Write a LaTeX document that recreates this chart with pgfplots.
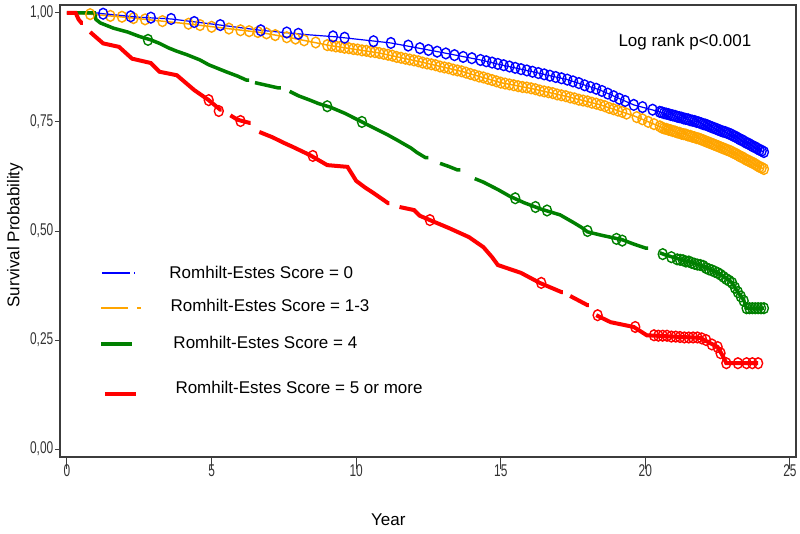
\documentclass[border=0pt]{standalone}
\usepackage{fontspec}
\setmainfont{Liberation Sans}
\usepackage{pgfplots}
\pgfplotsset{compat=1.18}
\definecolor{sblue}{RGB}{0,0,255}
\definecolor{sorange}{RGB}{255,165,0}
\definecolor{sgreen}{RGB}{0,128,0}
\definecolor{sred}{RGB}{255,0,0}
\definecolor{frm}{RGB}{60,60,60}
\begin{document}
\begin{tikzpicture}
\begin{axis}[
  scale only axis, width=736pt, height=452pt,
  xmin=-0.242, xmax=25.21, ymin=-0.018, ymax=1.018,
  axis line style={frm, line width=1.5pt},
  xtick={0,5,10,15,20,25}, ytick={0,0.25,0.5,0.75,1},
  xtick pos=bottom, ytick pos=left, tick align=outside,
  xtick style={frm, line width=1pt, /pgfplots/major tick length=12pt},
  ytick style={frm, line width=1pt, /pgfplots/major tick length=5pt},
  /pgf/number format/assume math mode=true,
  yticklabel style={/pgf/number format/fixed, /pgf/number format/fixed zerofill,
    /pgf/number format/precision=2, /pgf/number format/use comma,
    font=\fontsize{17}{17}\selectfont, xscale=0.7, text=black!80},
  xticklabel style={font=\fontsize{17}{17}\selectfont, xscale=0.7, text=black!80},
  xlabel={Year}, ylabel={Survival Probability},
  every axis x label/.style={at={(axis description cs:0.446,0)}, yshift=-63pt, anchor=center, font=\fontsize{17}{20}\selectfont},
  every axis y label/.style={at={(axis description cs:0,0.491)}, xshift=-45pt, rotate=90, anchor=center, font=\fontsize{17}{20}\selectfont},
  unbounded coords=jump,
  cens/.style={only marks, mark=o, mark size=4.5pt, mark options={line width=1.4pt, yscale=1.2}},
]
% Score 1-3 (orange)
\addplot[sorange, line width=1.5pt] coordinates {(0,1.0) (0.8,0.997) (2,0.99) (4.15,0.975) (5.3,0.966) (6.7,0.955) (7.8,0.942) (9.1,0.925) (10.8,0.908) (12.2,0.888) (13.7,0.865) (15,0.84) (16.1,0.826) (17.3,0.808) (18.4,0.79) (19.6,0.764) (20.7,0.734) (21.9,0.711) (23.0,0.681) (24.1,0.642)};
\addplot[sorange, cens] coordinates {
(0.8,0.997) (1.5,0.993) (1.9,0.991) (2.3,0.988) (2.7,0.985) (3.3,0.981) (4.2,0.975) (4.6,0.972) (5.0,0.968) (5.6,0.964) (6.0,0.960) (6.3,0.958) (6.6,0.956) (6.9,0.953) (7.2,0.949) (7.6,0.944) (7.9,0.941) (8.2,0.937) (8.6,0.932)
(9.0,0.926) (9.15,0.925) (9.3,0.923) (9.45,0.922) (9.6,0.920) (9.75,0.919) (9.9,0.917) (10.05,0.916) (10.2,0.914) (10.35,0.913) (10.5,0.911) (10.65,0.910) (10.8,0.908) (10.95,0.906) (11.1,0.904) (11.25,0.902) (11.4,0.899) (11.55,0.897) (11.7,0.895) (11.85,0.893) (12.0,0.891) (12.15,0.889) (12.3,0.886) (12.45,0.884) (12.6,0.882) (12.75,0.880) (12.9,0.877) (13.05,0.875) (13.2,0.873) (13.35,0.870) (13.5,0.868) (13.65,0.866) (13.8,0.863) (13.95,0.860) (14.1,0.857) (14.25,0.854) (14.4,0.852) (14.55,0.849) (14.7,0.846) (14.85,0.843) (15.0,0.840) (15.15,0.838) (15.3,0.836) (15.45,0.834) (15.6,0.832) (15.75,0.830) (15.9,0.829) (16.05,0.827) (16.2,0.825) (16.35,0.822) (16.5,0.820) (16.65,0.818) (16.8,0.816) (16.95,0.813) (17.1,0.811) (17.25,0.809) (17.4,0.806) (17.55,0.804) (17.7,0.801) (17.85,0.799) (18.0,0.797) (18.15,0.794) (18.3,0.792) (18.45,0.789) (18.6,0.786) (18.75,0.782) (18.9,0.779) (19.05,0.776) (19.2,0.773) (19.35,0.769) (19.7,0.761) (19.9,0.756) (20.1,0.750) (20.3,0.745)
(20.5,0.740) (20.575,0.737) (20.65,0.735) (20.725,0.734) (20.8,0.732) (20.875,0.731) (20.95,0.729) (21.025,0.728) (21.1,0.726) (21.175,0.725) (21.25,0.723) (21.325,0.722) (21.4,0.721) (21.475,0.719) (21.55,0.718) (21.625,0.716) (21.7,0.715) (21.775,0.713) (21.85,0.712) (21.925,0.710) (22.0,0.708) (22.075,0.706) (22.15,0.704) (22.225,0.702) (22.3,0.700) (22.375,0.698) (22.45,0.696) (22.525,0.694) (22.6,0.692) (22.675,0.690) (22.75,0.688) (22.825,0.686) (22.9,0.684) (22.975,0.682) (23.05,0.679) (23.125,0.677) (23.2,0.674) (23.275,0.671) (23.35,0.669) (23.425,0.666) (23.5,0.663) (23.575,0.661) (23.65,0.658) (23.725,0.656) (23.8,0.653) (23.875,0.650) (23.95,0.647) (24.025,0.645) (24.1,0.642)};
% Score 0 (blue)
\addplot[sblue, line width=1.2pt] coordinates {(0,1.0) (1.0,1.0) (1.25,0.998) (2.5,0.99) (3.6,0.986) (5.3,0.972) (6.7,0.96) (8.3,0.95) (9.3,0.945) (11.2,0.931) (12.9,0.91) (14.3,0.892) (15,0.881) (16.1,0.865) (17.3,0.847) (18.4,0.824) (19.6,0.789) (20.5,0.773) (21.9,0.748) (23.0,0.72) (24.1,0.681)};
\addplot[sblue, cens] coordinates {
(1.25,0.998) (2.2,0.992) (2.9,0.989) (3.6,0.986) (4.4,0.979) (5.3,0.972) (6.7,0.96) (7.6,0.955) (8.0,0.952) (9.2,0.946) (9.6,0.943) (10.6,0.935) (11.2,0.931) (11.8,0.925) (12.2,0.919)
(12.5,0.915) (12.8,0.911) (13.1,0.907) (13.4,0.903) (13.7,0.899) (14.0,0.896) (14.3,0.892) (14.5,0.889) (14.7,0.886) (14.9,0.883) (15.1,0.880) (15.3,0.877) (15.5,0.874) (15.7,0.871) (15.9,0.868) (16.1,0.865) (16.3,0.862) (16.5,0.859) (16.7,0.856) (16.9,0.853) (17.1,0.850) (17.3,0.847) (17.5,0.843) (17.7,0.839) (17.9,0.834) (18.1,0.830) (18.3,0.826) (18.5,0.821) (18.7,0.815) (18.9,0.809) (19.1,0.803) (19.3,0.798) (19.6,0.789) (19.9,0.784) (20.25,0.778)
(20.5,0.773) (20.575,0.772) (20.65,0.770) (20.725,0.769) (20.8,0.768) (20.875,0.766) (20.95,0.765) (21.025,0.764) (21.1,0.762) (21.175,0.761) (21.25,0.760) (21.325,0.758) (21.4,0.757) (21.475,0.756) (21.55,0.754) (21.625,0.753) (21.7,0.752) (21.775,0.750) (21.85,0.749) (21.925,0.747) (22.0,0.745) (22.075,0.744) (22.15,0.742) (22.225,0.740) (22.3,0.738) (22.375,0.736) (22.45,0.734) (22.525,0.732) (22.6,0.730) (22.675,0.728) (22.75,0.727) (22.825,0.725) (22.9,0.723) (22.975,0.721) (23.05,0.718) (23.125,0.716) (23.2,0.713) (23.275,0.710) (23.35,0.708) (23.425,0.705) (23.5,0.702) (23.575,0.700) (23.65,0.697) (23.725,0.694) (23.8,0.692) (23.875,0.689) (23.95,0.686) (24.025,0.684) (24.1,0.681)};
% Score 4 (green)
\addplot[sgreen, line width=3.5pt] coordinates {
(0,1.0) (0.95,1.0) (1.0,0.985) (1.15,0.977) (1.6,0.965) (2.1,0.956) (2.5,0.946) (2.9,0.938) (3.2,0.93) (3.5,0.92) (3.8,0.912) (4.15,0.904) (4.6,0.892) (4.9,0.881) (5.2,0.873) (5.5,0.865) (5.9,0.855) (6.2,0.846) (6.3,0.846) (6.4,nan) (6.5,0.84) (6.9,0.834) (7.3,0.828) (7.4,0.828) (7.5,nan) (7.7,0.82) (8.0,0.81) (8.4,0.80) (8.7,0.792) (9.1,0.784) (9.6,0.77) (9.9,0.76) (10.2,0.75) (10.5,0.74) (10.8,0.73) (11.1,0.72) (11.4,0.709) (11.9,0.69) (12.1,0.68) (12.4,0.668) (12.5,0.668) (12.6,nan) (12.9,0.655) (13.2,0.648) (13.5,0.64) (13.6,0.64) (13.7,nan) (14.1,0.62) (14.4,0.612) (14.9,0.595) (15.3,0.58) (15.8,0.565) (16.4,0.55) (17.05,0.537) (17.5,0.52) (17.8,0.508) (18.0,0.498) (18.5,0.49) (19.2,0.48) (19.6,0.47) (20.0,0.461) (20.1,0.461) (20.2,nan) (20.5,0.45) (20.7,0.445) (21.3,0.433) (21.9,0.422) (22.5,0.404) (22.8,0.392) (23.0,0.381) (23.2,0.36) (23.4,0.342) (23.5,0.323) (24.1,0.323)};
\addplot[sgreen, cens] coordinates {
(2.8,0.938) (9.0,0.786) (10.2,0.75) (15.5,0.575) (16.2,0.555) (16.6,0.547) (18.0,0.50) (19.0,0.482) (19.2,0.478) (20.6,0.447) (20.9,0.44) (21.1,0.435) (21.2,0.434) (21.3,0.433) (21.4,0.43) (21.5,0.43) (21.6,0.427) (21.7,0.425) (21.8,0.423) (21.9,0.422) (22.0,0.42) (22.1,0.415) (22.2,0.412) (22.3,0.41) (22.4,0.407) (22.5,0.404) (22.6,0.40) (22.7,0.395) (22.8,0.39) (22.9,0.386) (23.0,0.381) (23.1,0.37) (23.2,0.36) (23.3,0.35) (23.4,0.34) (23.5,0.323) (23.6,0.323) (23.7,0.323) (23.8,0.323) (23.9,0.323) (24.0,0.323) (24.1,0.323)};
% Score 5 or more (red)
\addplot[sred, line width=4pt] coordinates {
(0,1.0) (0.3,1.0) (0.4,0.985) (0.5,0.977) (0.55,0.977) (0.65,nan) (0.8,0.956) (1.25,0.93) (1.8,0.922) (2.25,0.895) (2.9,0.885) (3.2,0.865) (3.8,0.857) (4.1,0.84) (4.4,0.823) (4.9,0.80) (5.3,0.778) (5.35,0.778) (5.5,nan) (5.65,0.765) (5.9,0.755) (6.3,0.748) (6.35,0.748) (6.5,nan) (6.65,0.727) (7.1,0.715) (7.5,0.702) (7.8,0.693) (8.4,0.674) (9.0,0.651) (9.7,0.647) (10.0,0.615) (10.3,0.60) (10.6,0.587) (11.1,0.564) (11.15,0.564) (11.3,nan) (11.5,0.555) (12.0,0.548) (12.2,0.535) (12.55,0.525) (13.2,0.507) (13.9,0.486) (14.4,0.463) (14.7,0.44) (14.9,0.422) (15.7,0.404) (16.35,0.381) (17.1,0.36) (17.15,0.36) (17.3,nan) (17.4,0.351) (18.0,0.33) (18.05,0.33) (18.2,nan) (18.3,0.307) (18.8,0.291) (19.6,0.28) (20.05,0.261) (21.9,0.255) (22.5,0.234) (22.7,0.211) (22.8,0.197) (23.9,0.197)};
\addplot[sred, cens] coordinates {
(4.9,0.80) (5.25,0.775) (6.0,0.752) (8.5,0.672) (12.55,0.525) (16.4,0.381) (18.35,0.307) (19.65,0.28) (20.3,0.261) (20.45,0.26) (20.6,0.26) (20.75,0.26) (20.9,0.258) (21.05,0.258) (21.2,0.257) (21.35,0.256) (21.5,0.256) (21.65,0.256) (21.8,0.256) (21.95,0.254) (22.1,0.25) (22.3,0.24) (22.5,0.234) (22.6,0.22) (22.8,0.197) (23.2,0.197) (23.5,0.197) (23.7,0.197) (23.9,0.197)};
% legend samples
\addplot[sblue, line width=1.5pt, forget plot] coordinates {(1.21,0.404) (2.18,0.404)};
\addplot[sblue, line width=1.5pt, forget plot] coordinates {(2.32,0.404) (2.36,0.404)};
\addplot[sorange, line width=2pt, forget plot] coordinates {(1.18,0.323) (2.11,0.323)};
\addplot[sorange, line width=2pt, forget plot] coordinates {(2.42,0.323) (2.56,0.323)};
\addplot[sgreen, line width=4pt, forget plot] coordinates {(1.18,0.241) (2.25,0.241)};
\addplot[sred, line width=4.5pt, forget plot] coordinates {(1.31,0.126) (2.39,0.126)};
\node[anchor=west, font=\fontsize{17}{20}\selectfont] at (axis cs:3.42,0.404) {Romhilt-Estes Score = 0};
\node[anchor=west, font=\fontsize{17}{20}\selectfont] at (axis cs:3.46,0.330) {Romhilt-Estes Score = 1-3};
\node[anchor=west, font=\fontsize{17}{20}\selectfont] at (axis cs:3.56,0.245) {Romhilt-Estes Score = 4};
\node[anchor=west, font=\fontsize{17}{20}\selectfont] at (axis cs:3.63,0.142) {Romhilt-Estes Score = 5 or more};
\node[anchor=west, font=\fontsize{17}{20}\selectfont] at (axis cs:18.95,0.933) {Log rank p<0.001};
\end{axis}
\pgfresetboundingbox
\path[use as bounding box] ([shift={(-60pt,-76pt)}]current axis.south west) rectangle ([shift={(4pt,5pt)}]current axis.north east);
\end{tikzpicture}
\end{document}
